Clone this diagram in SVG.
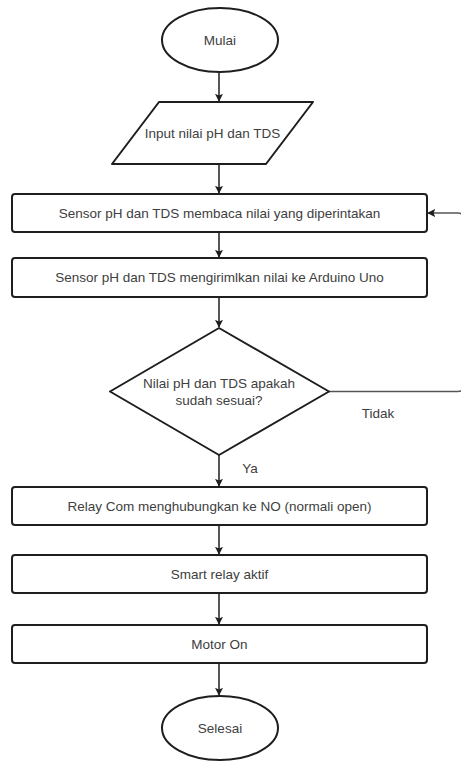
<svg xmlns="http://www.w3.org/2000/svg" width="461" height="761" viewBox="0 0 461 761">
<defs>
<style>
.shape{fill:#fff;stroke:#1e1e1e;stroke-width:2;stroke-linejoin:round}
.lbl{font-family:"Liberation Sans",Arial,sans-serif;font-size:13.5px;fill:#404040;text-anchor:middle;dominant-baseline:central}
.edge{fill:none;stroke:#1e1e1e;stroke-width:1.5}
.loop{fill:none;stroke:#555;stroke-width:1.5}
</style>
<marker id="arr" viewBox="0 0 10 10" refX="9" refY="5" markerWidth="8" markerHeight="8" markerUnits="userSpaceOnUse" orient="auto">
<path d="M0,0 L10,5 L0,10 L2,5 Z" fill="#1e1e1e"/>
</marker>
</defs>
<rect width="461" height="761" fill="#fff"/>
<g id="connectors">
<line class="edge" x1="219" y1="72" x2="219" y2="101" marker-end="url(#arr)"/>
<line class="edge" x1="219" y1="164" x2="219" y2="193" marker-end="url(#arr)"/>
<line class="edge" x1="219" y1="232" x2="219" y2="257" marker-end="url(#arr)"/>
<line class="edge" x1="219" y1="297" x2="219" y2="327" marker-end="url(#arr)"/>
<line class="edge" x1="219" y1="455" x2="219" y2="486" marker-end="url(#arr)"/>
<line class="edge" x1="219" y1="525" x2="219" y2="554" marker-end="url(#arr)"/>
<line class="edge" x1="219" y1="593" x2="219" y2="624" marker-end="url(#arr)"/>
<line class="edge" x1="219" y1="663" x2="219" y2="695" marker-end="url(#arr)"/>
<path class="loop" d="M329,391.5 H458 Q464,391.5 464,385.5 V219 Q464,213 458,213 H428" marker-end="url(#arr)"/>
<text class="lbl" x="378" y="413">Tidak</text>
<text class="lbl" x="250" y="468">Ya</text>
</g>
<g id="mulai">
<ellipse class="shape" cx="220" cy="40" rx="58" ry="32"/>
<text class="lbl" x="220" y="40">Mulai</text>
</g>
<g id="input">
<path class="shape" d="M159,102 L313,102 L266,164 L112,164 Z"/>
<text class="lbl" x="212.5" y="133">Input nilai pH dan TDS</text>
</g>
<g id="baca">
<rect class="shape" x="12" y="194" width="415" height="38" rx="3"/>
<text class="lbl" x="219.5" y="213">Sensor pH dan TDS membaca nilai yang diperintakan</text>
</g>
<g id="kirim">
<rect class="shape" x="12" y="258" width="415" height="39" rx="3"/>
<text class="lbl" x="219.5" y="277.5">Sensor pH dan TDS mengirimlkan nilai ke Arduino Uno</text>
</g>
<g id="cek">
<path class="shape" d="M219,328 L329,391.5 L219,455 L110,391.5 Z"/>
<text class="lbl" x="219" y="383">Nilai pH dan TDS apakah</text>
<text class="lbl" x="219" y="400">sudah sesuai?</text>
</g>
<g id="relay">
<rect class="shape" x="12" y="487" width="415" height="38" rx="3"/>
<text class="lbl" x="219.5" y="506">Relay Com menghubungkan ke NO (normali open)</text>
</g>
<g id="smart">
<rect class="shape" x="12" y="555" width="415" height="38" rx="3"/>
<text class="lbl" x="219.5" y="574">Smart relay aktif</text>
</g>
<g id="motor">
<rect class="shape" x="12" y="625" width="415" height="38" rx="3"/>
<text class="lbl" x="219.5" y="644">Motor On</text>
</g>
<g id="selesai">
<ellipse class="shape" cx="220" cy="728" rx="58" ry="32"/>
<text class="lbl" x="220" y="728">Selesai</text>
</g>
</svg>
